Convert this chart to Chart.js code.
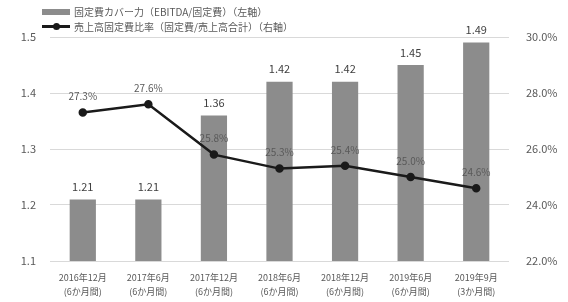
<!DOCTYPE html>
<html>
<head>
<meta charset="utf-8">
<script src="https://cdn.jsdelivr.net/npm/chart.js@4"></script>
<style>
  body { margin: 0; background: #fff; font-family: "Noto Sans CJK JP", sans-serif; }
  #wrap { position: relative; width: 568px; height: 302px; }
  #legend { position: absolute; left: 42px; top: 4px; font-size: 10px; color: #595959; line-height: 15px; }
  .row { display: flex; align-items: center; }
  .bar { width: 28px; height: 6px; background: #8c8c8c; margin-right: 4px; }
  .ln { position: relative; width: 28px; height: 3px; background: #1a1a1a; margin-right: 4px; }
  .ln:after { content: ""; position: absolute; left: 11px; top: -2.5px; width: 7px; height: 7px; border-radius: 50%; background: #1a1a1a; }
</style>
</head>
<body>
<div id="wrap">
  <canvas id="c" width="568" height="302"></canvas>
  <div id="legend">
    <div class="row"><span class="bar"></span>固定費カバー力（EBITDA/固定費）（左軸）</div>
    <div class="row"><span class="ln"></span>売上高固定費比率（固定費/売上高合計）（右軸）</div>
  </div>
</div>
<script>
let periods = [
  ["2016年12月", "(6か月間)"],
  ["2017年6月", "(6か月間)"],
  ["2017年12月", "(6か月間)"],
  ["2018年6月", "(6か月間)"],
  ["2018年12月", "(6か月間)"],
  ["2019年6月", "(6か月間)"],
  ["2019年9月", "(3か月間)"]
];
let coverage = [1.21, 1.21, 1.36, 1.42, 1.42, 1.45, 1.49];
let costRatio = [27.3, 27.6, 25.8, 25.3, 25.4, 25.0, 24.6];

const font = "'Noto Sans CJK JP', sans-serif";

// draws the numbers above bars and points
const valueLabels = {
  id: 'valueLabels',
  afterDatasetsDraw(chart) {
    const ctx = chart.ctx;
    ctx.save();
    ctx.textAlign = 'center';
    ctx.textBaseline = 'bottom';
    chart.getDatasetMeta(1).data.forEach(function (bar, i) {
      ctx.fillStyle = '#404040';
      ctx.font = '11px ' + font;
      ctx.fillText(coverage[i].toFixed(2), bar.x, bar.y - 7);
    });
    chart.getDatasetMeta(0).data.forEach(function (pt, i) {
      ctx.fillStyle = '#595959';
      ctx.font = '10px ' + font;
      ctx.fillText(costRatio[i].toFixed(1) + '%', pt.x, pt.y - 11);
    });
    ctx.restore();
  }
};

new Chart(document.getElementById('c'), {
  type: 'bar',
  data: {
    labels: periods,
    datasets: [{
      type: 'line',
      data: costRatio,
      yAxisID: 'y2',
      borderColor: '#1a1a1a',
      backgroundColor: '#1a1a1a',
      borderWidth: 2.5,
      pointRadius: 3,
      tension: 0,
      order: 0
    }, {
      data: coverage,
      yAxisID: 'y',
      backgroundColor: '#8c8c8c',
      categoryPercentage: 1,
      barPercentage: 0.4,
      order: 1
    }]
  },
  options: {
    responsive: false,
    animation: false,
    layout: { padding: { top: 37, left: 0, right: 0, bottom: 0 } },
    plugins: { legend: { display: false }, tooltip: { enabled: false } },
    scales: {
      x: {
        grid: { display: false },
        border: { display: false },
        ticks: { color: '#595959', font: { size: 9, family: font, lineHeight: 1.6 }, maxRotation: 0, padding: 1 },
        afterFit: function (s) { s.height = 41; }
      },
      y: {
        position: 'left',
        min: 1.1, max: 1.5,
        ticks: { stepSize: 0.1, color: '#595959', font: { size: 11, family: font }, padding: 14,
          callback: function (v) { return v.toFixed(1); } },
        grid: { color: '#d9d9d9', drawTicks: false },
        border: { display: false },
        afterFit: function (s) { s.width = 50; }
      },
      y2: {
        position: 'right',
        min: 22, max: 30,
        ticks: { stepSize: 2, color: '#595959', font: { size: 11, family: font }, padding: 9,
          callback: function (v) { return v.toFixed(1) + '%'; } },
        grid: { display: false },
        border: { display: false },
        afterFit: function (s) { s.width = 59; }
      }
    }
  },
  plugins: [valueLabels]
});
</script>
</body>
</html>
